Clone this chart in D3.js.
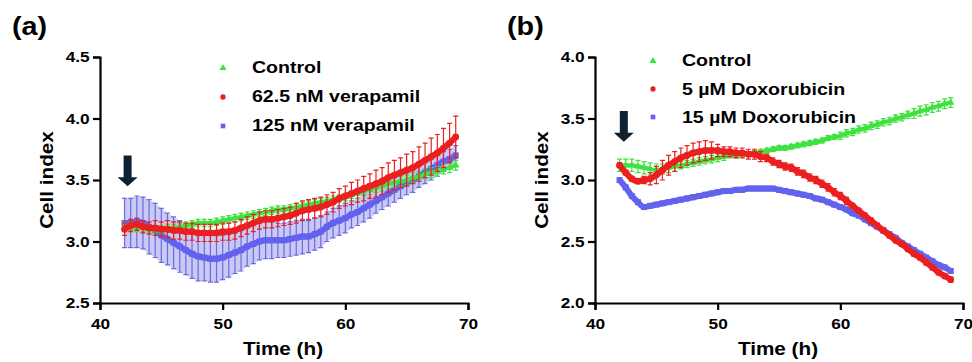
<!DOCTYPE html>
<meta charset="utf-8">
<style>
body { margin: 0; background: #fff; }
.axis text { font: bold 15px "Liberation Sans", Arial, sans-serif; fill: #000; }
.lbl { font-family: "Liberation Sans", Arial, sans-serif; font-weight: bold; fill: #000; }
</style>
<body>
<script src="https://cdnjs.cloudflare.com/ajax/libs/d3/7.8.5/d3.min.js"></script>
<script>
// sampling times (h)
var time = [42,42.5,43,43.5,44,44.5,45,45.5,46,46.5,
  47,47.5,48,48.5,49,49.5,50,50.5,51,51.5,
  52,52.5,53,53.5,54,54.5,55,55.5,56,56.5,
  57,57.5,58,58.5,59,59.5,60,60.5,61,61.5,
  62,62.5,63,63.5,64,64.5,65,65.5,66,66.5,
  67,67.5,68,68.5,69];

// panel (a)
var ctrlA = [3.12,3.12,3.11,3.11,3.10,3.10,3.10,3.11,3.11,3.12,
  3.13,3.14,3.15,3.15,3.15,3.16,3.17,3.18,3.19,3.20,
  3.21,3.22,3.23,3.24,3.25,3.26,3.26,3.27,3.28,3.29,
  3.30,3.31,3.32,3.33,3.34,3.35,3.36,3.38,3.39,3.41,
  3.42,3.44,3.45,3.47,3.48,3.49,3.50,3.52,3.53,3.55,
  3.56,3.57,3.59,3.60,3.62];
var ctrlAErr = [0.03,0.03,0.03,0.03,0.03,0.03,0.03,0.03,0.03,0.03,
  0.03,0.03,0.03,0.03,0.03,0.03,0.03,0.03,0.03,0.03,
  0.03,0.03,0.03,0.03,0.03,0.03,0.03,0.03,0.03,0.03,
  0.03,0.03,0.03,0.03,0.03,0.03,0.03,0.03,0.04,0.04,
  0.04,0.04,0.04,0.04,0.04,0.04,0.04,0.04,0.04,0.04,
  0.04,0.04,0.04,0.04,0.04];
var vera62 = [3.10,3.13,3.14,3.12,3.11,3.11,3.10,3.10,3.09,3.09,
  3.08,3.08,3.07,3.07,3.07,3.07,3.08,3.08,3.09,3.11,
  3.13,3.15,3.17,3.18,3.18,3.19,3.20,3.21,3.23,3.25,
  3.26,3.27,3.28,3.30,3.32,3.35,3.37,3.39,3.41,3.43,
  3.45,3.47,3.49,3.52,3.54,3.56,3.58,3.60,3.63,3.66,
  3.69,3.72,3.76,3.80,3.85];
var vera62Err = [0.05,0.05,0.05,0.05,0.05,0.06,0.06,0.07,0.07,0.07,
  0.07,0.07,0.07,0.07,0.07,0.07,0.07,0.07,0.07,0.07,
  0.07,0.07,0.07,0.07,0.07,0.07,0.07,0.07,0.08,0.08,
  0.08,0.08,0.08,0.08,0.08,0.08,0.08,0.09,0.09,0.10,
  0.10,0.11,0.11,0.12,0.12,0.12,0.13,0.13,0.14,0.14,
  0.15,0.15,0.16,0.16,0.17];
var vera125 = [3.15,3.15,3.16,3.15,3.12,3.09,3.05,3.02,2.99,2.96,
  2.93,2.90,2.88,2.87,2.86,2.86,2.87,2.89,2.91,2.93,
  2.96,2.98,3.00,3.01,3.01,3.01,3.01,3.02,3.03,3.04,
  3.04,3.06,3.08,3.12,3.15,3.17,3.19,3.22,3.24,3.27,
  3.30,3.33,3.36,3.39,3.42,3.45,3.48,3.50,3.53,3.56,
  3.59,3.62,3.65,3.67,3.70];
var vera125Err = [0.20,0.20,0.21,0.21,0.22,0.22,0.22,0.21,0.21,0.21,
  0.20,0.20,0.20,0.19,0.19,0.19,0.18,0.18,0.17,0.17,
  0.16,0.16,0.15,0.15,0.15,0.14,0.14,0.14,0.14,0.14,
  0.13,0.13,0.13,0.12,0.12,0.12,0.12,0.11,0.11,0.11,
  0.11,0.10,0.10,0.10,0.10,0.10,0.10,0.10,0.09,0.09,
  0.09,0.09,0.08,0.08,0.08];

// panel (b)
var ctrlB = [3.12,3.12,3.12,3.11,3.10,3.09,3.08,3.09,3.10,3.11,
  3.12,3.13,3.14,3.15,3.16,3.17,3.18,3.19,3.20,3.20,
  3.21,3.21,3.22,3.23,3.24,3.25,3.26,3.26,3.27,3.28,
  3.29,3.30,3.31,3.32,3.34,3.35,3.36,3.38,3.39,3.41,
  3.42,3.44,3.45,3.47,3.48,3.50,3.51,3.53,3.54,3.56,
  3.57,3.59,3.60,3.62,3.63];
var ctrlBErr = [0.05,0.05,0.05,0.05,0.05,0.05,0.05,0.04,0.04,0.04,
  0.03,0.03,0.03,0.03,0.03,0.03,0.03,0.03,0.02,0.02,
  0.02,0.02,0.02,0.02,0.02,0.02,0.02,0.02,0.02,0.02,
  0.02,0.02,0.02,0.02,0.02,0.02,0.03,0.03,0.03,0.03,
  0.03,0.03,0.03,0.03,0.03,0.03,0.03,0.03,0.04,0.04,
  0.04,0.04,0.04,0.04,0.04];
var dox5 = [3.12,3.06,3.01,2.99,3.00,3.01,3.04,3.08,3.12,3.15,
  3.18,3.20,3.22,3.23,3.24,3.24,3.24,3.23,3.23,3.22,
  3.22,3.21,3.21,3.19,3.18,3.15,3.13,3.11,3.10,3.07,
  3.05,3.02,3.00,2.97,2.94,2.90,2.87,2.83,2.79,2.75,
  2.71,2.67,2.63,2.59,2.55,2.51,2.48,2.44,2.40,2.37,
  2.33,2.29,2.25,2.22,2.19];
var dox5Err = [0.02,0.02,0.02,0.02,0.03,0.05,0.07,0.08,0.08,0.08,
  0.08,0.08,0.08,0.08,0.08,0.07,0.05,0.04,0.04,0.04,
  0.04,0.04,0.04,0.04,0.03,0.03,0.03,0.03,0.03,0.03,
  0.03,0.03,0.03,0.03,0.03,0.03,0.03,0.03,0.02,0.02,
  0.02,0.02,0.02,0.02,0.02,0.02,0.02,0.02,0.02,0.02,
  0.02,0.02,0.02,0.02,0.02];
var dox15 = [3.00,2.94,2.87,2.82,2.78,2.79,2.80,2.81,2.82,2.83,
  2.84,2.85,2.86,2.87,2.88,2.89,2.90,2.91,2.91,2.92,
  2.92,2.93,2.93,2.93,2.93,2.93,2.92,2.91,2.90,2.89,
  2.88,2.87,2.85,2.84,2.82,2.80,2.78,2.76,2.73,2.71,
  2.68,2.65,2.62,2.59,2.56,2.53,2.49,2.46,2.43,2.40,
  2.37,2.34,2.31,2.29,2.26];
var dox15Err = [0.01,0.01,0.01,0.01,0.01,0.01,0.01,0.01,0.01,0.01,
  0.01,0.01,0.01,0.01,0.01,0.01,0.01,0.01,0.01,0.01,
  0.01,0.01,0.01,0.01,0.01,0.01,0.01,0.01,0.01,0.01,
  0.01,0.01,0.01,0.01,0.01,0.01,0.01,0.01,0.01,0.01,
  0.01,0.01,0.01,0.01,0.01,0.01,0.01,0.01,0.01,0.01,
  0.01,0.01,0.01,0.01,0.01];

var xTicks = [40, 50, 60, 70];
var yTicksA = [2.5, 3.0, 3.5, 4.0, 4.5];
var yTicksB = [2.0, 2.5, 3.0, 3.5, 4.0];
var namesA = ["Control", "62.5 nM verapamil", "125 nM verapamil"];
var namesB = ["Control", "5 \u00b5M Doxorubicin", "15 \u00b5M Doxorubicin"];

var GREEN = "#3fe23f", RED = "#ec1f1f", BLUE = "#6262ee";
var STRETCH = 1.15;

var svg = d3.select("body").append("svg")
    .attr("width", 972)
    .attr("height", 362);

function label(x, y, str, size, anchor, rot) {
  var t = "translate(" + x + "," + y + ")" + (rot ? " rotate(" + rot + ")" : "") + " scale(" + STRETCH + ",1)";
  svg.append("text")
      .attr("class", "lbl")
      .attr("transform", t)
      .attr("font-size", size + "px")
      .style("text-anchor", anchor || "start")
      .text(str);
}

var panels = [
  { tag: "(a)", left: 100, yDomain: [2.5, 4.5], yTicks: yTicksA, names: namesA,
    legX: 223, legY: [68, 97, 126], txtY: [73, 102, 131],
    arrow: {t: 42.25, top: 3.70, tip: 3.45},
    order: [2, 0, 1],
    series: [
      {v: ctrlA, e: ctrlAErr, c: GREEN, bar: GREEN, w: 4, sym: d3.symbolTriangle},
      {v: vera62, e: vera62Err, c: RED, bar: RED, w: 6, sym: d3.symbolCircle},
      {v: vera125, e: vera125Err, c: BLUE, bar: "#6a6ae4", band: "#c9c9f3", w: 6, sym: d3.symbolSquare}
    ] },
  { tag: "(b)", left: 595, yDomain: [2.0, 4.0], yTicks: yTicksB, names: namesB,
    legX: 653, legY: [61, 89, 117], txtY: [66, 95, 123],
    arrow: {t: 42.35, top: 3.56, tip: 3.31},
    order: [0, 2, 1],
    series: [
      {v: ctrlB, e: ctrlBErr, c: GREEN, bar: GREEN, w: 4, sym: d3.symbolTriangle},
      {v: dox5, e: dox5Err, c: RED, bar: RED, w: 6, sym: d3.symbolCircle},
      {v: dox15, e: dox15Err, c: BLUE, bar: BLUE, w: 6, sym: d3.symbolSquare}
    ] }
];

var plotTop = 57, plotH = 246, plotW = 368;

panels.forEach(function(p) {
  var x = d3.scaleLinear().domain([40, 70]).range([0, plotW]);
  var y = d3.scaleLinear().domain(p.yDomain).range([plotH, 0]);
  var g = svg.append("g").attr("transform", "translate(" + p.left + "," + plotTop + ")");

  p.order.forEach(function(k) {
    var s = p.series[k];
    var pts = time.map(function(t, i) { return {t: t, v: s.v[i], e: s.e[i]}; });

    if (s.band) {
      g.append("path")
          .datum(pts)
          .attr("fill", s.band)
          .attr("d", d3.area()
            .x(function(d) { return x(d.t); })
            .y0(function(d) { return y(d.v - d.e); })
            .y1(function(d) { return y(d.v + d.e); }));
    }

    var bars = g.append("g")
        .attr("stroke", s.bar)
        .attr("stroke-width", 1.2)
        .attr("fill", "none");
    bars.selectAll("path")
      .data(pts)
      .enter().append("path")
        .attr("d", function(d) {
          var cx = x(d.t), y0 = y(d.v - d.e), y1 = y(d.v + d.e);
          return "M" + cx + "," + y0 + "V" + y1 +
                 "M" + (cx - 2.5) + "," + y1 + "H" + (cx + 2.5) +
                 "M" + (cx - 2.5) + "," + y0 + "H" + (cx + 2.5);
        });

    g.append("path")
        .datum(pts)
        .attr("fill", "none")
        .attr("stroke", s.c)
        .attr("stroke-width", s.w)
        .attr("stroke-linejoin", "round")
        .attr("d", d3.line()
          .curve(d3.curveMonotoneX)
          .x(function(d) { return x(d.t); })
          .y(function(d) { return y(d.v); }));

    g.selectAll(null)
      .data(pts)
      .enter().append("path")
        .attr("fill", s.c)
        .attr("transform", function(d) { return "translate(" + x(d.t) + "," + y(d.v) + ")"; })
        .attr("d", d3.symbol().type(s.sym).size(s.w * 6));
  });

  // axes
  var xa = g.append("g")
      .attr("class", "axis")
      .attr("transform", "translate(0," + plotH + ")")
      .call(d3.axisBottom(x).tickValues(xTicks).tickSize(7).tickPadding(8).tickFormat(d3.format("d")));
  xa.selectAll("text").attr("transform", "scale(" + STRETCH + ",1)");

  var ya = g.append("g")
      .attr("class", "axis")
      .call(d3.axisLeft(y).tickValues(p.yTicks).tickSize(7).tickPadding(2).tickFormat(d3.format(".1f")));
  ya.selectAll("text").attr("transform", "scale(" + STRETCH + ",1)");

  g.selectAll(".axis path, .axis line")
      .attr("stroke", "#000")
      .attr("stroke-width", 2.2);

  // treatment arrow
  var ax = x(p.arrow.t), ay0 = y(p.arrow.top), ay1 = y(p.arrow.tip);
  g.append("path")
      .attr("fill", "#0c2233")
      .attr("d", "M" + (ax - 4) + "," + ay0 + "H" + (ax + 4) + "V" + (ay1 - 9) +
                 "H" + (ax + 10) + "L" + ax + "," + ay1 + "L" + (ax - 10) + "," + (ay1 - 9) +
                 "H" + (ax - 4) + "Z");

  // legend
  p.series.forEach(function(s, i) {
    svg.append("path")
        .attr("fill", s.c)
        .attr("transform", "translate(" + p.legX + "," + p.legY[i] + ")")
        .attr("d", d3.symbol().type(s.sym).size(22));
    label(p.legX + 29, p.txtY[i], p.names[i], 17, "start");
  });

  // titles
  label(p.left - 47, plotTop + plotH / 2, "Cell index", 18, "middle", -90);
  label(p.left + plotW / 2 - 1, 355, "Time (h)", 18, "middle");
  label(p.left - 88, 35, p.tag, 25, "start");
});
</script>
</body>
